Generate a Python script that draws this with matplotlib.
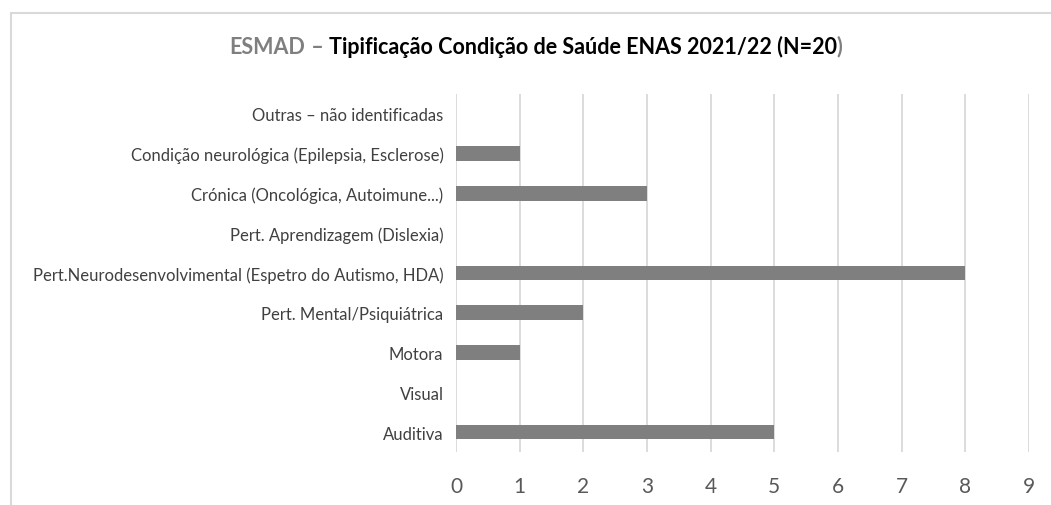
import matplotlib
matplotlib.use("Agg")
import matplotlib.pyplot as plt
from matplotlib.patches import Rectangle

categories = ["Auditiva", "Visual", "Motora", "Pert. Mental/Psiquiátrica",
              "Pert.Neurodesenvolvimental (Espetro do Autismo, HDA)",
              "Pert. Aprendizagem (Dislexia)", "Crónica (Oncológica, Autoimune...)",
              "Condição neurológica (Epilepsia, Esclerose)", "Outras - não identificadas"]
values = [5, 0, 1, 2, 8, 0, 3, 1, 0]
xticks = list(range(0, 10))

W, H = 1051, 506
fig = plt.figure(figsize=(W / 100, H / 100), dpi=100)
fig.patch.set_facecolor("white")

narrow = ["Lato", "DejaVu Sans"]

# outer chart frame
fig.patches.append(Rectangle((10.5 / W, -0.1), 1.2, (H - 13.5) / H + 0.1,
                             transform=fig.transFigure, fill=False,
                             edgecolor="#d9d9d9", linewidth=1.5))

ax_left, ax_right = 456 / W, 1029 / W
ax_top, ax_bot = 1 - 95 / H, 1 - 453 / H
ax = fig.add_axes([ax_left, ax_bot, ax_right - ax_left, ax_top - ax_bot])

ax.barh(range(len(categories)), values, height=0.37, color="#7f7f7f", zorder=3)
ax.set_xlim(0, 9)
ax.set_ylim(-0.5, len(categories) - 0.5)
ax.set_xticks(xticks)
ax.set_xticklabels([str(t) for t in xticks], fontsize=15, color="#595959",
                   family=narrow)
ax.set_yticks(range(len(categories)))
ax.set_yticklabels([c.replace(" - ", " – ") for c in categories], fontsize=12,
                   color="#404040", family=narrow)
ax.tick_params(axis="both", length=0)
ax.tick_params(axis="x", pad=17)
ax.tick_params(axis="y", pad=9)
ax.grid(axis="x", color="#d9d9d9", linewidth=1.3, zorder=0)
for s in ax.spines.values():
    s.set_visible(False)

# title composed of coloured pieces
pieces = [("ESMAD", "#7f7f7f"), (" – ", "#7f7f7f"),
          ("Tipificação Condição de Saúde ENAS 2021/22 (N=20", "#000000"),
          (")", "#7f7f7f")]
fig.canvas.draw()
renderer = fig.canvas.get_renderer()
texts = []
widths = []
for s, c in pieces:
    t = fig.text(0, 1 - 47 / H, s, color=c, fontsize=15.5, fontweight="bold",
                 family=narrow, va="center", ha="left")
    texts.append(t)
    widths.append(t.get_window_extent(renderer).width)
total = sum(widths)
x = 536 - total / 2
for t, w in zip(texts, widths):
    t.set_x(x / W)
    x += w

fig.savefig("out.png", dpi=100, facecolor="white")
